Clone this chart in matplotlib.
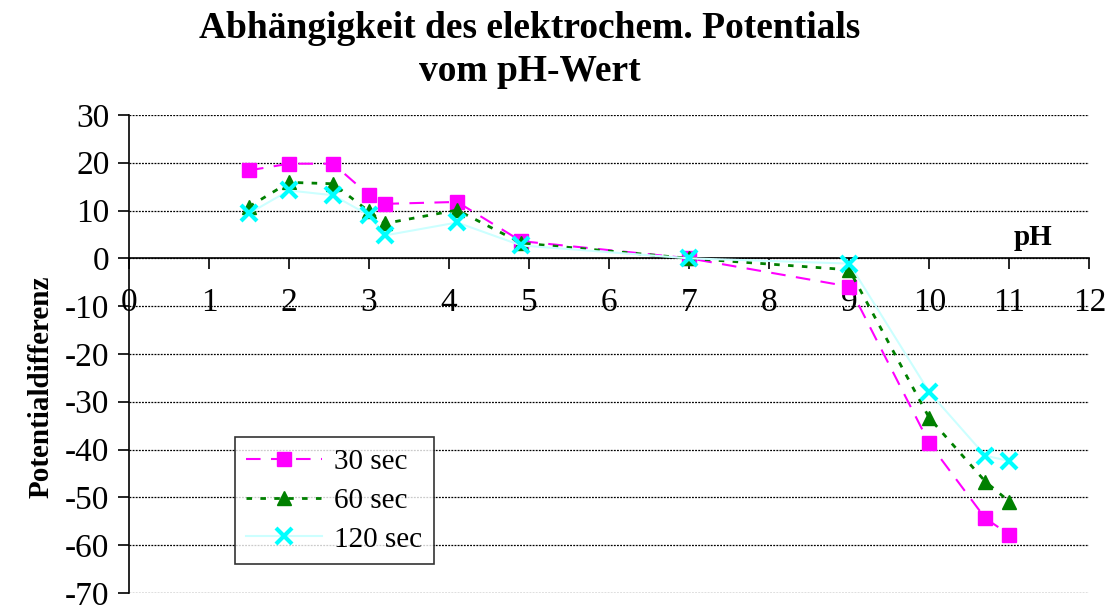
import matplotlib.pyplot as plt

plt.rcParams['font.family'] = ['Liberation Serif', 'DejaVu Serif']
plt.rcParams['axes.unicode_minus'] = False

# pH values
ph = [1.5, 2.0, 2.55, 3.0, 3.2, 4.1, 4.9, 7.0, 9.0, 10.0, 10.7, 11.0]

# potential differences per measuring time
sec30 = [18.4, 19.8, 19.8, 13.2, 11.4, 11.8, 3.6, 0.0, -5.9, -38.7, -54.4, -57.8]
sec60 = [10.8, 15.9, 15.6, 9.8, 7.3, 10.1, 3.2, 0.0, -2.4, -33.4, -46.7, -50.9]
sec120 = [9.4, 14.2, 13.2, 9.0, 4.8, 7.5, 2.7, 0.0, -1.1, -28.0, -41.3, -42.4]

labels = ['30 sec', '60 sec', '120 sec']
xticks = list(range(0, 13))
yticks = list(range(-70, 31, 10))

fig = plt.figure(figsize=(11.09, 6.05), dpi=100)
ax = fig.add_axes([0.1163, 0.02, 0.866, 0.79])

ax.set_xlim(0, 12)
ax.set_ylim(-70, 30)

# grid lines
for y in yticks:
    ax.axhline(y, color='black', lw=0.9, linestyle=(0, (1.5, 1)), zorder=1)

ax.plot(ph, sec30, color='#ff00ff', linestyle=(0, (7, 5)), lw=1.5,
        marker='s', markersize=10, markerfacecolor='#ff00ff',
        markeredgecolor='#ff00ff', label=labels[0], zorder=3)
ax.plot(ph, sec60, color='#008000', linestyle=(0, (2, 3)), lw=2,
        marker='^', markersize=10, markerfacecolor='#008000',
        markeredgecolor='#008000', label=labels[1], zorder=4)
ax.plot(ph, sec120, color='#ccffff', linestyle='-', lw=1.5,
        marker='x', markersize=11, markeredgewidth=3,
        markeredgecolor='#00ffff', label=labels[2], zorder=5)

# axes like excel: x axis crossing at y=0
for s in ['top', 'right']:
    ax.spines[s].set_visible(False)
ax.spines['bottom'].set_position(('data', 0))
ax.spines['bottom'].set_linewidth(1.2)
ax.spines['left'].set_linewidth(1.2)

ax.set_xticks(xticks)
ax.set_yticks(yticks)
ax.tick_params(axis='x', direction='out', length=8, width=1.2, pad=13, labelsize=24)
ax.tick_params(axis='y', direction='out', length=8, width=1.2, pad=6, labelsize=24)

ax.text(11.3, 1.5, 'pH', fontsize=21, fontweight='bold', ha='center', va='bottom')
ax.set_ylabel('Potentialdifferenz', fontsize=21, fontweight='bold')
ax.yaxis.set_label_coords(-0.077, 0.432)

fig.suptitle('Abhängigkeit des elektrochem. Potentials\nvom pH-Wert',
             fontsize=27, fontweight='bold', x=0.478, y=0.982, linespacing=1.3)

leg = ax.legend(loc='lower left', bbox_to_anchor=(0.110, 0.06), fontsize=21,
                frameon=True, fancybox=False, edgecolor='black',
                handlelength=2.6, handletextpad=0.4, borderpad=0.4,
                labelspacing=0.42, borderaxespad=0)
leg.get_frame().set_linewidth(1.2)

fig.savefig('out.png', dpi=100)
